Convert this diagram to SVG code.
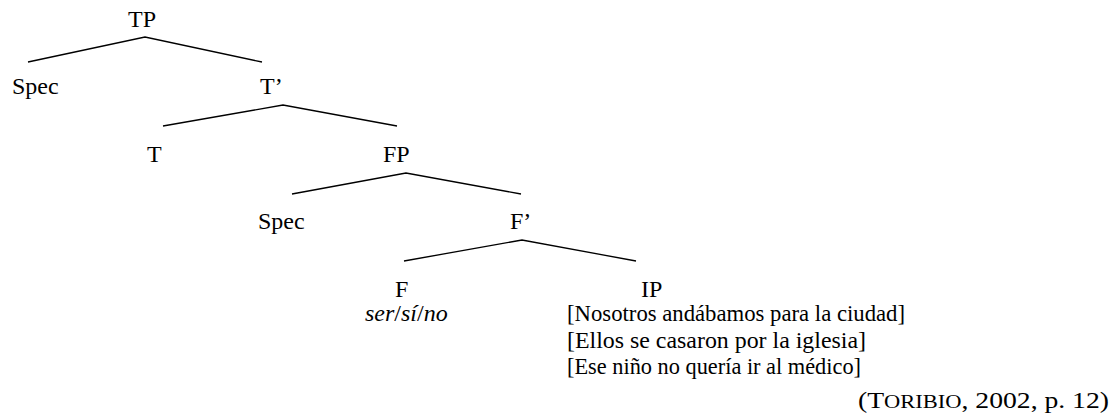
<svg xmlns="http://www.w3.org/2000/svg" width="1112" height="419" viewBox="0 0 1112 419">
<style>
text{font-family:'Liberation Serif','Times New Roman',serif;font-size:24px;fill:#000}
.it{font-style:italic}
.edge{stroke:#000;stroke-width:1.3;fill:none}
</style>
<rect width="1112" height="419" fill="#fff"/>
<g id="connectors">
<polyline class="edge" points="28,62 145,37 262,62"/>
<polyline class="edge" points="163,126 283,105 397,126"/>
<polyline class="edge" points="292,194 406,173 521,194"/>
<polyline class="edge" points="404,261 522,240 636,261"/>
</g>
<g id="TP"><text x="128" y="27">TP</text></g>
<g id="Spec1"><text x="12" y="94">Spec</text></g>
<g id="Tbar"><text x="260" y="94">T’</text></g>
<g id="T"><text x="147" y="162">T</text></g>
<g id="FP"><text x="383" y="162">FP</text></g>
<g id="Spec2"><text x="258" y="229">Spec</text></g>
<g id="Fbar"><text x="510" y="229">F’</text></g>
<g id="F"><text x="395" y="297">F</text><text class="it" x="365" y="321">ser<tspan font-style="normal">/</tspan>sí<tspan font-style="normal">/</tspan>no</text></g>
<g id="IP"><text x="641" y="297">IP</text>
<text x="567" y="321" textLength="338" lengthAdjust="spacingAndGlyphs">[Nosotros andábamos para la ciudad]</text>
<text x="567" y="348" textLength="299" lengthAdjust="spacingAndGlyphs">[Ellos se casaron por la iglesia]</text>
<text x="567" y="374" textLength="294" lengthAdjust="spacingAndGlyphs">[Ese niño no quería ir al médico]</text>
</g>
<g id="citation"><text x="858" y="408" font-size="27" textLength="251" lengthAdjust="spacingAndGlyphs">(T<tspan font-size="19.5">ORIBIO</tspan>, 2002, p. 12)</text></g>
</svg>
